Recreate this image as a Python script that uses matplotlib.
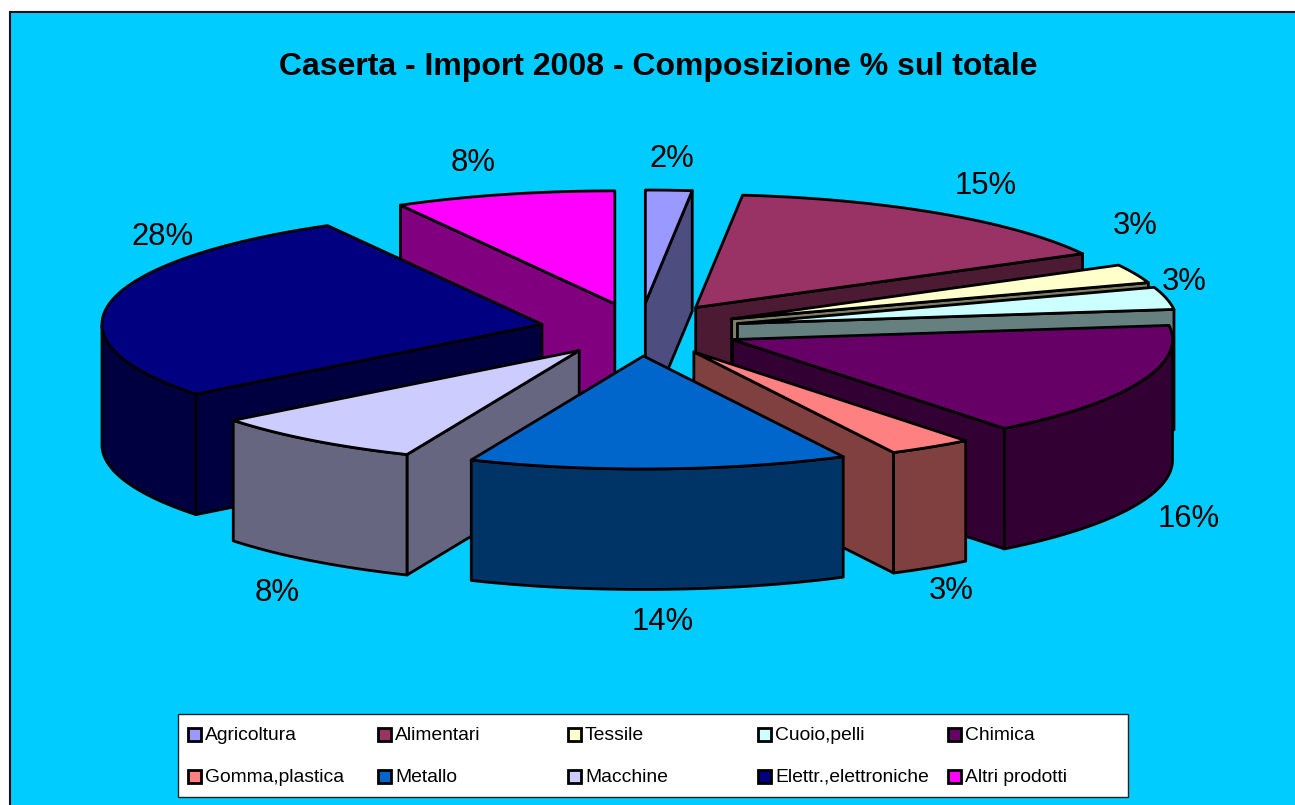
# -*- coding: utf-8 -*-
import numpy as np
import matplotlib
matplotlib.use('Agg')
import matplotlib.pyplot as plt
from matplotlib.patches import Polygon, Rectangle

plt.rcParams['font.family'] = ['Liberation Sans', 'DejaVu Sans']

categories = ['Agricoltura', 'Alimentari', 'Tessile', 'Cuoio,pelli', 'Chimica',
              'Gomma,plastica', 'Metallo', 'Macchine', 'Elettr.,elettroniche', 'Altri prodotti']
values = [1.7, 15.4, 2.7, 3.2, 16.4, 3.1, 13.9, 8.0, 27.5, 8.1]
colors = ['#9999FF', '#993366', '#FFFFCC', '#CCFFFF', '#660066',
          '#FF8080', '#0066CC', '#CCCCFF', '#000080', '#FF00FF']
side_colors = ['#4D4D80', '#4D1A33', '#808066', '#668080', '#330033',
               '#804040', '#003366', '#666680', '#000040', '#800080']
title = 'Caserta - Import 2008 - Composizione % sul totale'

# label nudges from the middle of each outer arc, pixels
label_dx = [3, 45, 0, 18, 49, 20, 4, -35, 52, -31]
label_dy = [-31, -28, -48, -16, 137, 144, 153, 153, -65, -31]

W, H = 1295, 805
cx, cy = 640, 329.5
rx, ry = 440, 113
ex, ey = 100, 26.5
depth = 120.5
lw = 2.0

fig = plt.figure(figsize=(W / 100, H / 100), dpi=100, facecolor='white')
ax = fig.add_axes([0, 0, 1, 1])
ax.set_xlim(0, W)
ax.set_ylim(H, 0)
ax.axis('off')

ax.add_patch(Rectangle((10, 12), W, H, fc='#00CCFF', ec='#111122', lw=1.5, zorder=0))
ax.text(658.5, 67, title, ha='center', va='center', fontsize=23.0, fontweight='bold', color='black')


def rim(a, ox, oy):
    return ox + rx * np.sin(a), oy - ry * np.cos(a)


cum = np.cumsum([0] + values) / sum(values) * 2 * np.pi
mids = (cum[:-1] + cum[1:]) / 2

# back slices first, so the front ones paint over them
order = sorted(range(len(values)), key=lambda i: -np.cos(mids[i]))
z = 1
for i in order:
    a, b = cum[i], cum[i + 1]
    ox = cx + ex * np.sin(mids[i])
    oy = cy - ey * np.cos(mids[i])
    t = np.linspace(a, b, 80)
    xs, ys = rim(t, ox, oy)
    style = dict(ec='black', lw=lw, joinstyle='round')

    for edge, show in ((a, np.sin(a) < 0), (b, np.sin(b) > 0)):
        if show:
            ex_, ey_ = rim(edge, ox, oy)
            wall = [(ox, oy), (ex_, ey_), (ex_, ey_ + depth), (ox, oy + depth)]
            ax.add_patch(Polygon(wall, fc=side_colors[i], zorder=z, **style))
            z += 1

    front = np.cos(t) < 0
    if front.any():
        fx, fy = xs[front], ys[front]
        pts = np.column_stack([np.r_[fx, fx[::-1]], np.r_[fy, fy[::-1] + depth]])
        ax.add_patch(Polygon(pts, fc=side_colors[i], zorder=z, **style))
        z += 1

    top = np.column_stack([np.r_[ox, xs], np.r_[oy, ys]])
    ax.add_patch(Polygon(top, fc=colors[i], zorder=z, **style))
    z += 1

    lx, ly = rim(mids[i], ox, oy)
    ax.text(lx + label_dx[i], ly + label_dy[i], '%.0f%%' % values[i], ha='center', va='center',
            fontsize=22.3, color='black', zorder=500)

# legend box, five columns by two rows
ax.add_patch(Rectangle((178, 714), 950, 83, fc='white', ec='#222222', lw=1, zorder=600))
for i, name in enumerate(categories):
    col, row = i % 5, i // 5
    x = 188 + 190 * col
    y = 734 + 42 * row
    ax.add_patch(Rectangle((x - 0.5, y - 6.5), 13, 13, fc=colors[i], ec='black', lw=2.0, zorder=601))
    ax.text(x + 17, y + 1, name, ha='left', va='center', fontsize=13.9, color='black', zorder=601)

fig.savefig('out.png', dpi=100, facecolor='white')
